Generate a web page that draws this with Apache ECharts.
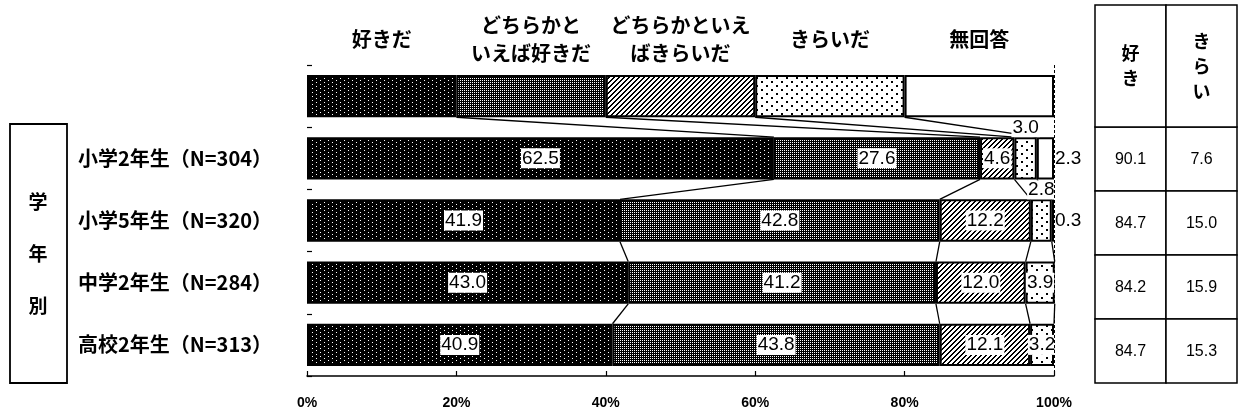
<!DOCTYPE html>
<html>
<head>
<meta charset="utf-8">
<script src="https://cdn.jsdelivr.net/npm/echarts@6/dist/echarts.min.js"></script>
<style>
  html, body { margin: 0; padding: 0; background: #fff; }
  #chart { width: 1243px; height: 416px; }
</style>
</head>
<body>
<div id="chart"></div>
<script>
// Rows: the first row is the key bar (five equal 20% blocks), then one row per grade
const categories = ['', '小学2年生（N=304）', '小学5年生（N=320）', '中学2年生（N=284）', '高校2年生（N=313）'];
const seriesNames = ['好きだ', 'どちらかと\nいえば好きだ', 'どちらかといえ\nばきらいだ', 'きらいだ', '無回答'];

const likeVals          = [20, 62.5, 41.9, 43.0, 40.9];
const ratherLikeVals    = [20, 27.6, 42.8, 41.2, 43.8];
const ratherDislikeVals = [20,  4.6, 12.2, 12.0, 12.1];
const dislikeVals       = [20,  3.0,  2.8,  3.9,  3.2];
const noAnswerVals      = [20,  2.3,  0.3, null, null];

// Summary table on the right
const tableHeaders  = ['好\nき', 'き\nら\nい'];
const likeTotals    = [90.1, 84.7, 84.2, 84.7];
const dislikeTotals = [7.6, 15.0, 15.9, 15.3];

const xTickLabels = { 0: '0%', 20: '20%', 40: '40%', 60: '60%', 80: '80%', 100: '100%' };

const JP = '"Noto Sans CJK JP", "Noto Sans", sans-serif';
const NUM = '"Liberation Sans", Arial, sans-serif';
const BAR_RATIO = 0.68;

// Monochrome fill patterns drawn on small tiles
function makePattern(w, h, bg, fg, isInk) {
  const c = document.createElement('canvas');
  c.width = w; c.height = h;
  const g = c.getContext('2d');
  g.fillStyle = bg; g.fillRect(0, 0, w, h);
  g.fillStyle = fg;
  for (let y = 0; y < h; y++) {
    for (let x = 0; x < w; x++) {
      if (isInk(x, y)) g.fillRect(x, y, 1, 1);
    }
  }
  return { image: c, repeat: 'repeat' };
}
const fills = [
  // near-black with sparse white specks
  makePattern(8, 4, '#000', '#fff', (x, y) => (x === 0 && y === 0) || (x === 4 && y === 2)),
  // dark lattice with small white holes
  makePattern(4, 4, '#000', '#fff', (x, y) => x % 2 === 0 && y % 2 === 0),
  // diagonal hatching
  makePattern(5, 5, '#fff', '#000', (x, y) => (x + y) % 5 === 0 || (x + y) % 5 === 1),
  // sparse dots
  makePattern(10, 8, '#fff', '#000', (x, y) => ((x === 1 || x === 2) && (y === 1 || y === 2)) || ((x === 6 || x === 7) && (y === 5 || y === 6))),
  '#fff'
];

const valueSets = [likeVals, ratherLikeVals, ratherDislikeVals, dislikeVals, noAnswerVals];
const INSIDE_MIN = 3.1;

function labelFor(s, i, v) {
  if (i === 0) {
    return {
      show: true, formatter: seriesNames[s], position: ['50%', -36],
      align: 'center', verticalAlign: 'middle',
      fontFamily: JP, fontSize: 20, fontWeight: 'bold', lineHeight: 28, color: '#000'
    };
  }
  if (v == null) return { show: false };
  const base = {
    show: true, formatter: v.toFixed(1), fontFamily: NUM, fontSize: 19, color: '#000'
  };
  if (v >= INSIDE_MIN) {
    return Object.assign(base, { position: 'inside', backgroundColor: '#fff', padding: [1, 1, 0, 1] });
  }
  if (s === 4) {
    return Object.assign(base, { position: 'right', distance: 1 });
  }
  return Object.assign(base, { position: 'top', distance: 0, backgroundColor: '#fff', padding: [0, 1] });
}

const barSeries = valueSets.map((vals, s) => ({
  type: 'bar',
  name: seriesNames[s],
  stack: 'total',
  barWidth: (BAR_RATIO * 100) + '%',
  z: 3,
  itemStyle: { color: fills[s], borderColor: '#000', borderWidth: 2 },
  data: vals.map((v, i) => ({ value: v, label: labelFor(s, i, v) }))
}));

// Cumulative segment boundaries of each row, used for the connector lines
const cum = categories.map((_, i) => {
  let acc = 0;
  return valueSets.slice(0, 4).map(v => (acc += (v[i] || 0)));
});
const links = [];
for (let i = 0; i < categories.length - 1; i++) {
  for (let k = 0; k < 4; k++) links.push([cum[i][k], i, cum[i + 1][k], i + 1]);
}

const connectorSeries = {
  type: 'custom',
  coordinateSystem: 'cartesian2d',
  xAxisIndex: 0, yAxisIndex: 0,
  silent: true, z: 1,
  data: links,
  encode: { x: [0, 2], y: [1, 3] },
  renderItem(params, api) {
    const p1 = api.coord([api.value(0), api.value(1)]);
    const p2 = api.coord([api.value(2), api.value(3)]);
    const half = api.size([0, 1])[1] * BAR_RATIO / 2;
    return {
      type: 'line',
      shape: { x1: p1[0], y1: p1[1] + half, x2: p2[0], y2: p2[1] - half },
      style: { stroke: '#000', lineWidth: 1.3 }
    };
  }
};

// Table cells: column 0 = 好き, column 1 = きらい
const cellData = likeTotals.map((v, i) => [0, i, v]).concat(dislikeTotals.map((v, i) => [1, i, v]));
const HEADER_H = 122;

const tableSeries = {
  type: 'custom',
  coordinateSystem: 'cartesian2d',
  xAxisIndex: 1, yAxisIndex: 1,
  silent: true,
  data: cellData,
  renderItem(params, api) {
    const c = api.coord([api.value(0), api.value(1)]);
    const sz = api.size([1, 1]);
    return {
      type: 'group',
      children: [
        { type: 'rect', shape: { x: c[0] - sz[0] / 2, y: c[1] - sz[1] / 2, width: sz[0], height: sz[1] },
          style: { fill: '#fff', stroke: '#000', lineWidth: 1.5 } },
        { type: 'text', x: c[0], y: c[1] + 1,
          style: { text: api.value(2).toFixed(1), fill: '#000', fontSize: 16, fontFamily: NUM,
                   align: 'center', verticalAlign: 'middle' } }
      ]
    };
  }
};

const tableHeaderSeries = {
  type: 'custom',
  coordinateSystem: 'cartesian2d',
  xAxisIndex: 1, yAxisIndex: 1,
  silent: true,
  data: [[0, 0], [1, 0]],
  renderItem(params, api) {
    const col = api.value(0);
    const c = api.coord([col, 0]);
    const w = api.size([1, 1])[0];
    const top = params.coordSys.y - HEADER_H;
    return {
      type: 'group',
      children: [
        { type: 'rect', shape: { x: c[0] - w / 2, y: top, width: w, height: HEADER_H },
          style: { fill: '#fff', stroke: '#000', lineWidth: 1.5 } },
        { type: 'text', x: c[0], y: top + HEADER_H / 2,
          style: { text: tableHeaders[col], fill: '#000', fontSize: 18, fontWeight: 'bold', fontFamily: JP,
                   lineHeight: 25, align: 'center', verticalAlign: 'middle' } }
      ]
    };
  }
};

const chart = echarts.init(document.getElementById('chart'), null, { renderer: 'canvas' });
chart.setOption({
  backgroundColor: '#fff',
  animation: false,
  grid: [
    { left: 307, right: 189, top: 65, height: 311 },
    { left: 1095, top: 127, width: 142, height: 256 }
  ],
  xAxis: [
    {
      gridIndex: 0, type: 'value', min: 0, max: 100, interval: 20,
      axisLine: { show: true, lineStyle: { color: '#000', width: 1.5 } },
      axisTick: { show: true, inside: true, length: 5, lineStyle: { color: '#000', width: 1.2 } },
      splitLine: { show: false },
      axisLabel: {
        formatter: v => xTickLabels[v], margin: 20,
        fontFamily: NUM, fontWeight: 'bold', fontSize: 14, color: '#000'
      }
    },
    { gridIndex: 1, type: 'category', data: [0, 1], show: false }
  ],
  yAxis: [
    {
      gridIndex: 0, type: 'category', data: categories, inverse: true,
      axisLine: { show: false },
      axisTick: { show: true, inside: true, length: 5, lineStyle: { color: '#000', width: 1.2 } },
      axisLabel: { align: 'left', margin: 229, fontFamily: JP, fontSize: 20, fontWeight: 'bold', color: '#000' }
    },
    { gridIndex: 1, type: 'category', data: [0, 1, 2, 3], inverse: true, show: false }
  ],
  graphic: [
    {
      type: 'group',
      children: [
        { type: 'rect', shape: { x: 10, y: 124, width: 57, height: 259 },
          style: { fill: '#fff', stroke: '#000', lineWidth: 1.8 } },
        { type: 'text', x: 38, y: 254,
          style: { text: '学\n年\n別', fontSize: 19, fontWeight: 'bold', fontFamily: JP, lineHeight: 52,
                   fill: '#000', align: 'center', verticalAlign: 'middle' } }
      ]
    }
  ],
  series: [
    connectorSeries,
    ...barSeries,
    {
      type: 'line', xAxisIndex: 0, yAxisIndex: 0, data: [], silent: true,
      markLine: {
        symbol: 'none', silent: true, label: { show: false },
        lineStyle: { color: '#000', type: [3, 2], width: 1 },
        data: [{ xAxis: 100 }]
      }
    },
    tableSeries,
    tableHeaderSeries
  ]
});
</script>
</body>
</html>
